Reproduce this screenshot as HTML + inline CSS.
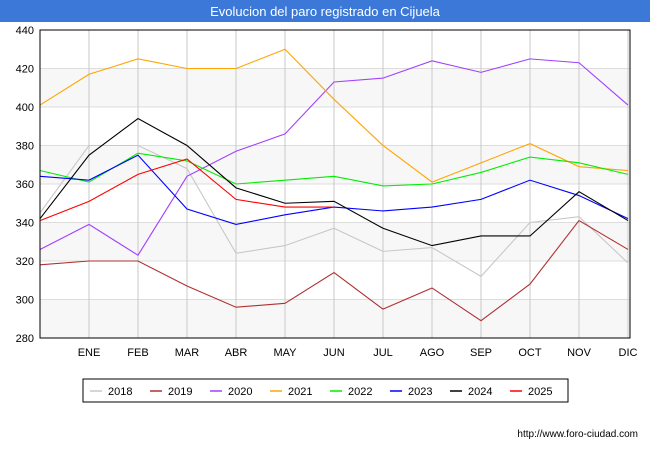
<!DOCTYPE html>
<html><head><meta charset="utf-8"><style>
body{margin:0;width:650px;height:450px;background:#fff;font-family:"Liberation Sans",sans-serif;overflow:hidden}
</style></head><body>
<svg width="650" height="450">
<rect x="0" y="0" width="650" height="22" fill="#3b78d8"/>
<text x="325" y="16" text-anchor="middle" fill="#fff" font-size="13">Evolucion del paro registrado en Cijuela</text>
<g id="grid"></g><g id="series"></g>
<rect x="40" y="30" width="590" height="308" fill="none" stroke="#000" stroke-width="1"/>
<g id="axes" font-size="11" fill="#000"></g>
<rect x="83" y="379" width="485" height="23" fill="#fff" stroke="#000"/>
<g id="legend" font-size="11"></g>
<text x="638" y="437" text-anchor="end" font-size="10" fill="#000">http://www.foro-ciudad.com</text>
</svg>
<script>
const months=["","ENE","FEB","MAR","ABR","MAY","JUN","JUL","AGO","SEP","OCT","NOV","DIC"];
const yTicks=[280,300,320,340,360,380,400,420,440];
const years=["2018","2019","2020","2021","2022","2023","2024","2025"];
const colors=["#c8c8c8","#b03030","#a040ff","#ffa500","#00ee00","#0000ff","#000000","#ff0000"];
const s2018=[345,380,380,368,324,328,337,325,327,312,340,343,319];
const s2019=[318,320,320,307,296,298,314,295,306,289,308,341,326];
const s2020=[326,339,323,364,377,386,413,415,424,418,425,423,401];
const s2021=[401,417,425,420,420,430,404,380,361,371,381,369,367];
const s2022=[367,361,376,372,360,362,364,359,360,366,374,371,365];
const s2023=[364,362,375,347,339,344,348,346,348,352,362,354,342];
const s2024=[342,375,394,380,358,350,351,337,328,333,333,356,341];
const s2025=[341,351,365,373,352,348,348];
const series=[s2018,s2019,s2020,s2021,s2022,s2023,s2024,s2025];
const NS="http://www.w3.org/2000/svg";
const X=i=>40+i*49;
const Y=v=>30+(440-v)*308/160;
function mk(t,a,p){const e=document.createElementNS(NS,t);for(const k in a)e.setAttribute(k,a[k]);p.appendChild(e);return e;}
const grid=document.getElementById('grid');
for(let i=0;i<yTicks.length-1;i++){if(i%2==0){const b=mk('rect',{x:40,y:Y(yTicks[i+1]),width:590,height:Y(yTicks[i])-Y(yTicks[i+1]),fill:'#f7f7f7'},grid);

}}
yTicks.forEach(v=>{const l=mk('line',{x1:40,x2:630,y1:Y(v),y2:Y(v),stroke:'#dddddd'},grid);

});
for(let i=1;i<13;i++){const l=mk('line',{x1:X(i),x2:X(i),y1:30,y2:338,stroke:'#c8c8c8'},grid);

}
const ax=document.getElementById('axes');
yTicks.forEach(v=>{const t=mk('text',{x:34,y:Y(v)+4,'text-anchor':'end'},ax);t.textContent=v;

});
months.forEach((m,i)=>{if(!m)return;const t=mk('text',{x:X(i),y:356,'text-anchor':'middle'},ax);t.textContent=m;

});
const sg=document.getElementById('series');
series.forEach((s,k)=>{const p=mk('polyline',{points:s.map((v,i)=>X(i)+','+Y(v)).join(' '),fill:'none',stroke:colors[k],'stroke-width':1.1},sg);

});
const lg=document.getElementById('legend');
years.forEach((y,k)=>{const x0=90+k*60;
const l=mk('line',{x1:x0,x2:x0+12,y1:391,y2:391,stroke:colors[k],'stroke-width':1.5},lg);


const t=mk('text',{x:x0+18,y:395},lg);t.textContent=y;

});
</script>
</body></html>
